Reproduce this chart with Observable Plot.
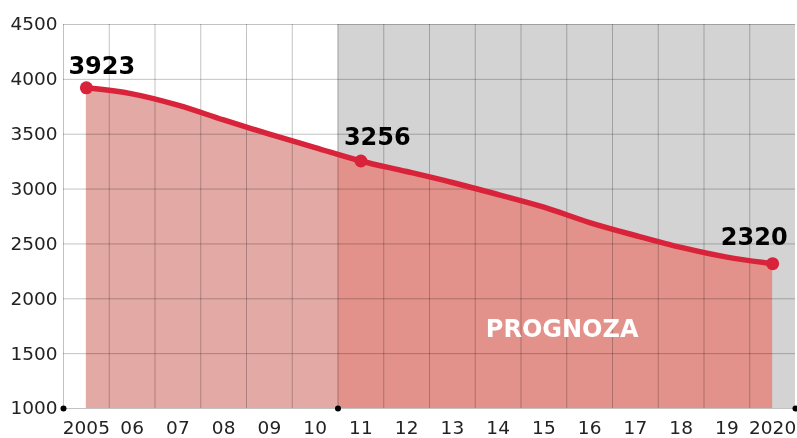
<!DOCTYPE html>
<html><head><meta charset="utf-8">
<script src="https://cdn.jsdelivr.net/npm/d3@7"></script>
<script src="https://cdn.jsdelivr.net/npm/@observablehq/plot@0.6"></script>
<style>body{margin:0;background:#fff;overflow:hidden}</style>
</head><body><div id="chart"></div>
<script>
const years = [2005, 2006, 2007, 2008, 2009, 2010, 2011, 2012, 2013, 2014, 2015, 2016, 2017, 2018, 2019, 2020];
const values = [3923, 3868, 3765, 3630, 3500, 3378, 3256, 3160, 3060, 2950, 2835, 2695, 2577, 2468, 2380, 2320];
const yearLabels = ["2005", "06", "07", "08", "09", "10", "11", "12", "13", "14", "15", "16", "17", "18", "19", "2020"];
const yTicks = [1000, 1500, 2000, 2500, 3000, 3500, 4000, 4500];
const labeledYears = [2005, 2011, 2020];
const forecastStart = 2010.5;
const forecastText = "PROGNOZA";

const data = years.map((year, i) => ({year, value: values[i]}));
const labeled = data.filter(d => labeledYears.includes(d.year));
const xMin = years[0] - 0.5, xMax = years[years.length - 1] + 0.5;
const yMin = yTicks[0], yMax = yTicks[yTicks.length - 1];
const cellEdges = years.map(y => y - 0.5);
const axisDots = [xMin, forecastStart, xMax];

const RED = "#d8233a";

const chart = Plot.plot({
  width: 797, height: 438,
  marginLeft: 63, marginRight: 2, marginTop: 24, marginBottom: 30,
  style: {fontFamily: "DejaVu Sans", fontSize: "18.5px", color: "#222", background: "white", overflow: "visible"},
  x: {domain: [xMin, xMax], ticks: years, tickFormat: d => yearLabels[years.indexOf(d)], tickSize: 0, tickPadding: 12, label: null},
  y: {domain: [yMin, yMax], ticks: yTicks, tickFormat: d => String(d), tickSize: 0, tickPadding: 6, label: null},
  marks: [
    Plot.rect([forecastStart], {x1: d => d, x2: () => xMax, y1: () => yMin, y2: () => yMax, fill: "#d3d3d3"}),
    Plot.areaY(data, {x: "year", y1: () => yMin, y2: "value", fill: "#e2928a", curve: "catmull-rom"}),
    Plot.rect([xMin], {x1: d => d, x2: () => forecastStart, y1: () => yMin, y2: () => yMax, fill: "#e3a9a5", mixBlendMode: "lighten"}),
    Plot.ruleX(cellEdges, {y1: yMin, y2: yMax, stroke: "#000", strokeOpacity: 0.24}),
    Plot.ruleY(yTicks, {x1: xMin, x2: xMax, stroke: "#000", strokeOpacity: 0.24}),
    Plot.text([forecastText], {x: () => 2015.4, y: () => 1650, text: d => d, fill: "white", fontSize: 24, fontWeight: "bold", textAnchor: "middle", lineAnchor: "bottom"}),
    Plot.line(data, {x: "year", y: "value", stroke: RED, strokeWidth: 5.5, curve: "catmull-rom"}),
    Plot.dot(labeled, {x: "year", y: "value", r: 6.5, fill: RED}),
    Plot.text(labeled.filter(d => d.year === 2005), {x: "year", y: "value", text: d => String(d.value), fontSize: 24, fontWeight: "bold", fill: "#000", textAnchor: "start", lineAnchor: "bottom", dx: -18, dy: -14}),
    Plot.text(labeled.filter(d => d.year === 2011), {x: "year", y: "value", text: d => String(d.value), fontSize: 24, fontWeight: "bold", fill: "#000", textAnchor: "start", lineAnchor: "bottom", dx: -17, dy: -16}),
    Plot.text(labeled.filter(d => d.year === 2020), {x: "year", y: "value", text: d => String(d.value), fontSize: 24, fontWeight: "bold", fill: "#000", textAnchor: "end", lineAnchor: "bottom", dx: 15, dy: -19}),
    Plot.dot(axisDots, {x: d => d, y: () => yMin, r: 3, fill: "#000"})
  ]
});
document.getElementById("chart").appendChild(chart);
</script>
</body></html>
